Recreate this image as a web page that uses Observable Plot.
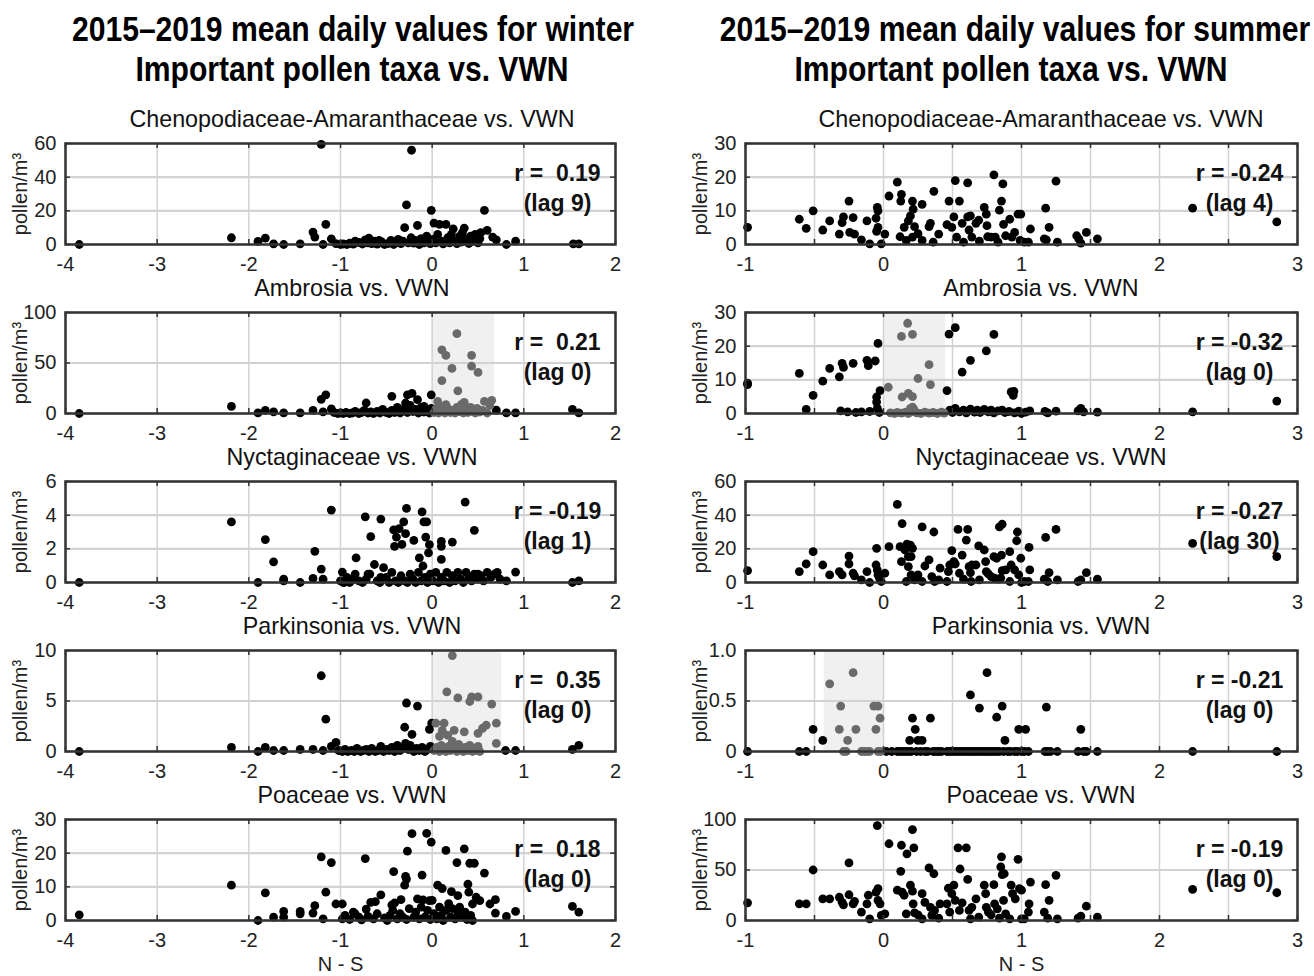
<!DOCTYPE html>
<html><head><meta charset="utf-8">
<script src="https://cdn.jsdelivr.net/npm/d3@7"></script>
<script src="https://cdn.jsdelivr.net/npm/@observablehq/plot@0.6"></script>
<style>
body{margin:0;background:#fff;}
#root{position:relative;width:1314px;height:976px;overflow:hidden;font-family:"Liberation Sans",Arial,sans-serif;color:#000}
.t{position:absolute;white-space:nowrap;line-height:1;}
.main{font-weight:bold;font-size:35px;transform:translateX(-50%) scaleX(0.86);}
.sub{font-size:24px;transform:translateX(-50%) scaleX(0.97);color:#111;}
.p{position:absolute;}
</style></head><body><div id="root"></div><script>
const FONT = '"Liberation Sans",Arial,sans-serif';

// ---------- tick labels ----------
const xTicksW = [-4,-3,-2,-1,0,1,2];
const xTicksS = [-1,-0.5,0,0.5,1,1.5,2,2.5,3];
const xLabelsS = [-1,0,1,2,3];

const titles = ["Chenopodiaceae-Amaranthaceae vs. VWN","Ambrosia vs. VWN","Nyctaginaceae vs. VWN","Parkinsonia vs. VWN","Poaceae vs. VWN"];
const rWinter = ["0.19","0.21","-0.19","0.35","0.18"];
const lagWinter = [9,0,1,0,0];
const rSummer = ["-0.24","-0.32","-0.27","-0.21","-0.19"];
const lagSummer = [4,0,30,0,0];
const yTicksW = [[0,20,40,60],[0,50,100],[0,2,4,6],[0,5,10],[0,10,20,30]];
const yTicksS = [[0,10,20,30],[0,10,20,30],[0,20,40,60],[0,0.5,1],[0,50,100]];
const shadeW = [null,[0,0.68],null,[0,0.76],null];
const shadeS = [null,[0,0.45],null,[-0.43,0],null];

// ---------- winter data [N-S, pollen] ----------
const wCheno = [[-3.85,0],[-2.19,4],[-1.9,1.8],[-1.82,3.8],[-1.73,0.4],[-1.62,0],[-1.44,0.4],[-1.30,7.4],[-1.28,4.4],[-1.21,59.5],[-1.19,0],[-1.16,12],[-1.10,3.4],[-0.84,2],[-0.73,2.8],[-0.69,3.8],[-0.58,2.4],[-0.30,10],[-0.28,23.5],[-0.225,56],[-0.16,11.3],[-0.01,20.3],[0.02,12.7],[0.08,12],[0.15,12],[0.23,9.3],[0.35,9.7],[0.57,20.3],[0.60,8.4],[0.66,4.4],[0.70,2.8],[0.81,0],[0.91,2],[1.54,0.4],[1.60,0.4],
[-1.05,0.5],[-1.0,0],[-0.97,0.3],[-0.93,0],[-0.9,0.8],[-0.86,0.2],[-0.8,1.2],[-0.76,0.3],[-0.7,1],[-0.66,0.5],[-0.63,2],[-0.6,0.2],[-0.55,1.5],[-0.52,0],[-0.48,0.6],[-0.45,2.5],[-0.42,0],[-0.4,1.2],[-0.37,3],[-0.34,0.5],[-0.32,2],[-0.26,1],[-0.23,4],[-0.2,0.8],[-0.18,2.5],[-0.14,0],[-0.12,3.5],[-0.09,1],[-0.06,5],[-0.04,2],[-0.02,0.5],[0.01,3],[0.04,1],[0.06,6],[0.1,2],[0.12,0.4],[0.17,4],[0.19,1],[0.21,6],[0.25,2],[0.27,0.5],[0.3,5],[0.32,1.5],[0.33,7],[0.37,3],[0.4,0.6],[0.42,5],[0.44,2],[0.47,6],[0.5,1],[0.52,3.5],[0.53,7]];

const wAmbrosia = [[-3.85,0],[-2.19,7],[-1.9,0.6],[-1.82,3],[-1.73,1.6],[-1.62,0.6],[-1.44,0.6],[-1.30,3],[-1.19,1.6],[-1.21,14],[-1.16,18.5],[-1.10,4.5],[-0.72,10.4],[-0.44,17],[-0.27,18.5],[-0.22,20],[-0.29,10.4],[-0.16,13.7],[-0.01,18.5],[-0.09,7],[0.70,3.3],[0.81,0.6],[0.91,0.6],[1.53,4],[1.60,0.6],
[-1.07,1],[-1.03,0],[-1.0,0.5],[-0.97,0],[-0.94,1],[-0.9,0],[-0.87,0.5],[-0.84,2],[-0.8,0],[-0.77,1],[-0.74,3],[-0.7,0.5],[-0.67,1.5],[-0.64,0],[-0.6,2],[-0.57,0.5],[-0.54,4],[-0.5,1],[-0.47,0],[-0.44,3],[-0.41,1],[-0.38,6],[-0.35,0.5],[-0.32,2.5],[-0.3,5],[-0.27,1],[-0.24,8],[-0.21,2],[-0.18,4],[-0.15,0.5],[-0.12,6],[-0.09,1.5],[-0.06,3],[-0.03,0.5],[-0.01,5],
[0.106,63],[0.15,57.5],[0.106,32.6],[0.216,44.6],[0.27,79],[0.28,22.5],[0.43,57.6],[0.43,47],[0.50,40.7],[0.06,12],[0.15,8.8],[0.35,11],[0.57,12],[0.65,13],
[0.02,1],[0.04,4],[0.07,0.5],[0.09,7],[0.12,2],[0.14,0.5],[0.17,5],[0.2,1],[0.22,3],[0.25,0.5],[0.27,6],[0.3,2],[0.32,9],[0.34,0.5],[0.37,4],[0.39,1],[0.42,6],[0.44,2],[0.47,0.5],[0.49,5],[0.52,1.5],[0.55,3],[0.6,0.5],[0.63,8]];

const wNyct = [[-3.85,0],[-2.19,3.6],[-1.9,0],[-1.82,2.55],[-1.73,1.23],[-1.62,0.2],[-1.62,0.1],[-1.44,0],[-1.30,0.25],[-1.28,1.85],[-1.21,0.8],[-1.19,0.2],[-1.10,4.3],[-0.98,0.62],[-0.97,0],[-0.89,0.1],[-0.84,0.5],[-0.83,1.46],[-0.73,3.9],[-0.72,0.2],[-0.70,0.5],[-0.67,2.73],[-0.63,1.07],[-0.56,3.77],[-0.56,0.3],[-0.53,0.88],[-0.42,3.12],[-0.41,2.15],[-0.39,2.7],[-0.36,3.2],[-0.33,2.26],[-0.31,3.6],[-0.29,2.9],[-0.28,4.4],[-0.20,2.5],[-0.11,4.2],[-0.09,3.6],[-0.06,3.6],[-0.07,2.7],[-0.14,1.46],[-0.10,0.98],[-0.04,1.76],[-0.03,2.25],[0.1,2.44],[0.10,2.15],[0.10,1.37],[0.22,2.4],[0.36,4.78],[0.46,3.1],[0.5,0.5],[0.91,0.62],[0.81,0.1],[1.53,0],[1.60,0.1],
[-1.0,0.1],[-0.96,0],[-0.93,0.3],[-0.9,0],[-0.86,0.2],[-0.8,0.1],[-0.76,0],[-0.68,0.5],[-0.6,0.1],[-0.57,0],[-0.5,0.3],[-0.47,0],[-0.44,0.6],[-0.4,0.1],[-0.37,0],[-0.34,0.4],[-0.3,0.1],[-0.27,0],[-0.24,0.5],[-0.21,0.2],[-0.18,0],[-0.15,0.6],[-0.12,0.1],[-0.08,0.3],[-0.05,0],[-0.02,0.5],[0.01,0.1],[0.04,0.6],[0.07,0],[0.1,0.3],[0.13,0.1],[0.16,0.6],[0.19,0],[0.22,0.4],[0.25,0.1],[0.28,0.6],[0.31,0.2],[0.34,0],[0.37,0.6],[0.4,0.3],[0.43,0.1],[0.46,0.5],[0.5,0.2],[0.53,0.4],[0.56,0.1],[0.6,0.6],[0.64,0.3],[0.68,0.5],[0.71,0.6],[0.74,0.2]];

const wParkin = [[-3.85,0],[-2.19,0.4],[-1.9,0],[-1.82,0.4],[-1.73,0.1],[-1.62,0.1],[-1.44,0.2],[-1.30,0.2],[-1.19,0.1],[-1.21,7.5],[-1.16,3.2],[-1.10,0.5],[-1.05,0.9],[-0.28,4.8],[-0.16,4.5],[-0.30,2.4],[-0.22,1.7],[-0.03,2.2],[-0.005,2.8],[-0.29,0.8],[0.80,0.1],[0.91,0.1],[1.53,0.2],[1.60,0.6],
[-1.02,0.1],[-0.98,0],[-0.95,0.2],[-0.92,0],[-0.88,0.1],[-0.85,0],[-0.82,0.3],[-0.78,0],[-0.75,0.1],[-0.72,0.2],[-0.69,0],[-0.66,0.3],[-0.62,0],[-0.59,0.1],[-0.56,0.5],[-0.53,0],[-0.5,0.2],[-0.47,0.1],[-0.44,0.4],[-0.41,0],[-0.38,0.6],[-0.35,0.1],[-0.32,0.3],[-0.26,0.2],[-0.24,0.6],[-0.2,0],[-0.17,0.3],[-0.14,0.1],[-0.11,0.4],[-0.08,0],[-0.05,0.2],[-0.02,0.5],
[0.22,9.5],[0.16,5.9],[0.28,5.3],[0.41,4.95],[0.43,5.4],[0.50,5.4],[0.65,4.7],[0.04,2.8],[0.13,2.8],[0.11,2.1],[0.24,2.1],[0.35,1.95],[0.50,1.8],[0.55,2.3],[0.59,2.6],[0.70,2.8],[0.70,0.8],[0.17,1.6],[0.08,1.5],[0.22,1.0],
[0.02,0.1],[0.05,0.4],[0.08,0],[0.1,0.6],[0.13,0.2],[0.15,0],[0.18,0.5],[0.2,0.1],[0.24,0.3],[0.27,0],[0.29,0.7],[0.31,0.2],[0.34,0],[0.36,0.4],[0.39,0.1],[0.41,0.6],[0.44,0],[0.46,0.3],[0.48,0.1],[0.5,0.5],[0.52,0]];

const wPoaceae = [[-3.85,1.7],[-2.19,10.5],[-1.9,0],[-1.82,8.2],[-1.73,1],[-1.62,2.7],[-1.62,1],[-1.44,2],[-1.44,2.7],[-1.30,2.2],[-1.28,4.4],[-1.21,18.9],[-1.19,0.5],[-1.16,8.4],[-1.10,17.2],[-1.05,4.9],[-0.98,4.9],[-0.84,2],[-0.73,18.4],[-0.72,3.4],[-0.67,5.4],[-0.62,5.6],[-0.56,7.6],[-0.42,14.5],[-0.44,4.6],[-0.41,5.2],[-0.34,6.2],[-0.30,10.5],[-0.29,13.1],[-0.28,12.3],[-0.27,20.6],[-0.22,25.8],[-0.16,6.4],[-0.11,13.5],[-0.10,6.1],[-0.06,25.9],[-0.01,23.3],[-0.03,5.9],[0.06,10.5],[0.11,9.5],[0.15,20.8],[0.21,8.6],[0.27,17.2],[0.28,7.4],[0.35,21.3],[0.39,10.8],[0.41,17],[0.46,17],[0.40,8.4],[0.44,4.9],[0.48,6.9],[0.52,5.9],[0.57,14.1],[0.63,4.9],[0.69,6.2],[0.69,2.2],[0.81,1.2],[0.91,2.7],[1.53,4.2],[1.60,2.5],
[-0.98,0.5],[-0.95,1.5],[-0.9,0.3],[-0.86,2.5],[-0.8,1],[-0.77,0.2],[-0.7,1.2],[-0.64,0.5],[-0.6,2],[-0.52,0.8],[-0.49,0],[-0.46,1.5],[-0.43,3],[-0.38,0.5],[-0.35,2],[-0.32,1],[-0.28,0.3],[-0.25,3.5],[-0.2,1],[-0.18,2.5],[-0.14,0.5],[-0.12,4],[-0.08,1],[-0.05,3],[-0.02,0.3],[0,6],[0.02,2],[0.05,0.5],[0.08,4],[0.1,1.5],[0.12,0],[0.15,3],[0.18,5],[0.2,1],[0.22,3.5],[0.25,0.5],[0.28,2],[0.3,4],[0.33,1],[0.36,2.5],[0.38,0.3],[0.42,1.5],[0.44,0]];

// ---------- summer data [N-S, pollen] ----------
const sCheno = [[-0.985,5.1],[-0.61,7.5],[-0.56,4.8],[-0.51,10],[-0.44,4.3],[-0.39,7],[-0.32,3.1],[-0.30,6.5],[-0.29,8.2],[-0.25,12.9],[-0.245,3.6],[-0.22,8],[-0.21,3.1],[-0.16,1.4],[-0.12,7],[-0.10,0.2],[-0.054,7.8],[-0.045,11],[-0.04,10],[-0.05,3.9],[-0.04,5.1],[-0.016,0.2],[0.01,3.1],[0.04,14.4],[0.10,18.5],[0.13,14.9],[0.125,12.9],[0.15,5.1],[0.12,2.3],[0.165,1.2],[0.18,7],[0.195,8.5],[0.21,12.9],[0.215,10.5],[0.21,2.2],[0.225,5.3],[0.25,3.2],[0.28,11.9],[0.28,1.2],[0.33,5.3],[0.34,6.3],[0.365,15.8],[0.36,0.7],[0.40,3.1],[0.46,5.9],[0.475,12.9],[0.495,5.1],[0.52,19],[0.51,8.2],[0.53,2.2],[0.55,12.9],[0.57,6.3],[0.58,0.7],[0.61,18.3],[0.61,8.2],[0.63,8.5],[0.62,4.3],[0.64,2.2],[0.67,6.3],[0.69,7.2],[0.695,1],[0.73,11],[0.745,9],[0.75,5.6],[0.755,2.3],[0.78,2.2],[0.80,20.7],[0.81,2.2],[0.83,0.7],[0.865,18],[0.855,12.9],[0.84,10.2],[0.87,6],[0.885,2.6],[0.915,7.5],[0.93,2.2],[0.95,3.6],[0.975,9],[0.995,9],[0.99,1.2],[1.02,0.7],[1.05,0.7],[1.065,4.6],[1.165,1.7],[1.175,10.8],[1.18,1.4],[1.20,5.1],[1.25,18.8],[1.26,0.7],[1.40,2.6],[1.415,1.7],[1.43,0.4],[1.47,3.6],[1.55,1.7],[2.24,10.8],[2.85,6.7]];

const sAmbrosia = [[-0.985,9],[-0.985,8.6],[-0.61,11.9],[-0.56,1.2],[-0.51,5.4],[-0.44,9.6],[-0.39,13.4],[-0.32,10.9],[-0.30,14.9],[-0.29,13.7],[-0.22,14.9],[-0.26,0.5],[-0.31,0.8],[-0.2,0.3],[-0.16,0.5],[-0.1,0.6],[-0.12,15.8],[-0.11,14.2],[-0.06,15.6],[-0.04,20.8],[-0.05,4.9],[-0.05,3.4],[-0.045,1.5],[-0.025,6.8],[-0.03,0.3],
[0.46,6.8],[0.475,23.6],[0.52,25.5],[0.57,12.3],[0.63,15.8],[0.745,18.6],[0.80,23.5],[0.94,5.4],[0.945,6.6],[0.925,6.4],
[0.48,1],[0.5,0.3],[0.52,1.5],[0.55,0.5],[0.58,1],[0.6,0.2],[0.63,1.3],[0.66,0.4],[0.68,1],[0.7,0.3],[0.73,1.2],[0.76,0.5],[0.78,1],[0.8,0.2],[0.83,0.8],[0.86,1],[0.88,0.3],[0.91,0.6],[0.95,0.2],[0.98,0.7],[1.0,0],[1.03,0.4],[1.06,0.8],[1.17,0.6],[1.19,0.2],[1.25,0.7],[1.41,0.8],[1.43,1.5],[1.45,0.5],[1.55,0.4],[2.24,0.5],[2.85,3.7],
[0.035,7.8],[0.13,22.9],[0.175,26.8],[0.21,23.5],[0.135,4.9],[0.18,6],[0.21,5],[0.25,10.4],[0.33,14.5],[0.34,8.6],[0.21,1.9],[0.195,1.5],
[0.05,0.2],[0.08,0],[0.1,0.3],[0.13,0.1],[0.16,0.4],[0.18,0],[0.2,0.5],[0.22,1.2],[0.24,0.2],[0.27,0],[0.3,0.4],[0.33,0.1],[0.36,0.3],[0.39,0],[0.42,0.4],[0.44,0.1]];

const sNyct = [[-0.985,7],[-0.61,6.5],[-0.56,11],[-0.51,18.3],[-0.44,10.4],[-0.39,4.5],[-0.32,6.5],[-0.30,4.5],[-0.25,15.7],[-0.25,11],[-0.22,5.5],[-0.21,3.9],[-0.16,1.6],[-0.12,6.5],[-0.10,0],[-0.054,10.4],[-0.05,20.3],[-0.045,7.5],[-0.04,4.5],[-0.03,2.6],[-0.016,0.6],[0.01,5.5],[0.04,21.3],[0.10,46.4],[0.135,35],[0.12,21.3],[0.13,12.4],[0.155,19.3],[0.17,22.8],[0.18,15.4],[0.195,22.2],[0.21,20.3],[0.20,15.4],[0.18,9.4],[0.165,0.6],[0.20,4.5],[0.225,1.6],[0.25,4.5],[0.28,33],[0.28,0.6],[0.30,9.8],[0.33,13.4],[0.35,3.5],[0.365,30],[0.37,0.6],[0.40,1.6],[0.41,8.5],[0.46,0.6],[0.47,6.5],[0.48,10.4],[0.495,18.9],[0.51,12.4],[0.52,11],[0.54,31.5],[0.55,5.5],[0.57,16.3],[0.58,2],[0.60,25.2],[0.61,31.5],[0.62,9.4],[0.63,5.9],[0.64,10.4],[0.635,0.6],[0.67,10.4],[0.69,21.7],[0.695,1.6],[0.73,19.3],[0.74,12.4],[0.745,6.5],[0.76,5.1],[0.78,3.5],[0.80,15.4],[0.805,2.6],[0.82,14.4],[0.83,2],[0.85,2.6],[0.84,33],[0.86,34.6],[0.855,16.3],[0.86,7],[0.885,7.5],[0.915,18.3],[0.915,0.6],[0.925,10.4],[0.95,7.5],[0.97,30],[0.965,24.8],[0.98,4.5],[0.995,14.4],[1.0,0],[1.02,0.6],[1.05,0.6],[1.055,20.9],[1.06,7.5],[1.165,2],[1.175,26.8],[1.19,0.6],[1.20,5.9],[1.25,31.5],[1.26,1.6],[1.41,0.6],[1.43,1.6],[1.47,5.9],[1.55,2],[2.24,23.2],[2.85,15.4]];

const sParkin = [[-0.985,0],[-0.61,0],[-0.56,0],[-0.51,0.22],[-0.44,0.11],
[0.02,0],[0.06,0],[0.1,0],[0.12,0],[0.14,0],[0.16,0],[0.18,0],[0.2,0],[0.24,0],[0.27,0],[0.3,0],[0.32,0],[0.36,0],[0.38,0],[0.4,0],[0.42,0],[0.46,0],[0.48,0],[0.5,0],[0.52,0],[0.54,0],[0.56,0],[0.58,0],[0.6,0],[0.62,0],[0.64,0],[0.66,0],[0.68,0],[0.7,0],[0.72,0],[0.74,0],[0.76,0],[0.78,0],[0.8,0],[0.82,0],[0.84,0],[0.87,0],[0.9,0],[0.92,0],[0.95,0],[0.97,0],[1.0,0],[1.02,0],[1.05,0],[1.17,0],[1.19,0],[1.21,0],[1.26,0],[1.41,0],[1.45,0],[1.47,0],[1.55,0],[2.24,0],[2.85,0],
[0.19,0.11],[0.21,0.33],[0.23,0.22],[0.25,0.11],[0.28,0.11],[0.34,0.33],[0.63,0.56],[0.695,0.43],[0.75,0.78],[0.82,0.34],[0.86,0.45],[0.88,0.11],[0.98,0.22],[1.03,0.22],[1.18,0.44],[1.43,0.22],
[-0.39,0.67],[-0.31,0.45],[-0.32,0.22],[-0.22,0.78],[-0.20,0.22],[-0.26,0.11],[-0.29,0],[-0.27,0],[-0.16,0],[-0.14,0],[-0.12,0],[-0.10,0],[-0.07,0.45],[-0.04,0.45],[-0.055,0.22],[-0.025,0.33],[-0.04,0],[-0.02,0]];

const sPoaceae = [[-0.985,17.5],[-0.61,16.5],[-0.56,16.5],[-0.51,50],[-0.44,21.5],[-0.39,21.5],[-0.32,23],[-0.30,18],[-0.29,15.5],[-0.25,57],[-0.25,25.5],[-0.22,16.5],[-0.21,19],[-0.16,8.3],[-0.12,16.5],[-0.11,25],[-0.10,1.7],[-0.054,28],[-0.045,94],[-0.04,31.5],[-0.04,20],[-0.025,16.5],[-0.016,5],[0.01,6.6],[0.04,76],[0.10,30],[0.13,74.5],[0.125,48.7],[0.135,28],[0.15,25],[0.17,66],[0.165,6.6],[0.195,35],[0.21,90],[0.22,72],[0.21,29],[0.215,16.5],[0.225,7.6],[0.25,5.6],[0.28,26.5],[0.28,1.7],[0.30,18],[0.33,52],[0.34,13],[0.35,5],[0.365,46.3],[0.37,10],[0.40,2.3],[0.41,16.5],[0.46,16.5],[0.47,32],[0.48,8.3],[0.495,26.5],[0.51,35],[0.52,20],[0.54,72],[0.555,51],[0.55,10],[0.57,17.5],[0.60,72],[0.61,40.7],[0.62,10],[0.63,1.7],[0.64,13],[0.67,21.5],[0.69,3.3],[0.73,35],[0.74,26.5],[0.745,13],[0.76,8.3],[0.78,5.6],[0.80,35.5],[0.805,16.5],[0.825,11.6],[0.84,2.3],[0.85,53],[0.855,63],[0.86,45.4],[0.87,20],[0.875,46.3],[0.885,6.6],[0.915,1.7],[0.925,35],[0.935,26.5],[0.955,21.5],[0.975,60.6],[0.985,31.5],[1.0,30],[1.0,1.7],[1.02,1.7],[1.05,8.3],[1.055,16.5],[1.065,38],[1.165,8.3],[1.175,35.5],[1.19,2.3],[1.20,20],[1.25,44.7],[1.26,1.7],[1.41,2.3],[1.43,4.3],[1.47,14.2],[1.55,3.3],[2.24,30.8],[2.85,27.5]];

const winterData = [wCheno,wAmbrosia,wNyct,wParkin,wPoaceae];
const summerData = [sCheno,sAmbrosia,sNyct,sParkin,sPoaceae];

// ---------- layout ----------
const frameTops = [143,312,481,650,819];
const FH = 101;
const root = document.getElementById("root");

function addText(cls, txt, cx, top) {
  const d = document.createElement("div");
  d.className = "t " + cls; d.textContent = txt;
  d.style.left = cx + "px"; d.style.top = top + "px";
  root.appendChild(d);
}
addText("main","2015–2019 mean daily values for winter",353,11);
addText("main","Important pollen taxa vs. VWN",352,51);
addText("main","2015–2019 mean daily values for summer",1015,11);
addText("main","Important pollen taxa vs. VWN",1011,51);

function panel({data, xDomain, xTicks, xLabels, yTicks, yFmt, shade, r, lag, bottom, fw}) {
  const [x0,x1] = xDomain;
  const y0 = yTicks[0], y1 = yTicks[yTicks.length-1];
  const tly = (y1-y0)*5/FH, tlx = (x1-x0)*5/fw;
  const pts = data.map(([x,y]) => ({x, y, g: shade ? (x >= shade[0] && x <= shade[1]) : false}));
  const mt = 8, mb = bottom ? 62 : 34;
  const marks = [];
  if (shade) marks.push(Plot.rect([shade], {x1: d=>d[0], x2: d=>d[1], fill:"#f0f0f0"}));
  marks.push(
    Plot.gridX(xTicks, {stroke:"#d2d2d2", strokeOpacity:1, strokeWidth:1.5}),
    Plot.gridY(yTicks, {stroke:"#d2d2d2", strokeOpacity:1, strokeWidth:2.2}),
    Plot.dot(pts, {x:"x", y:"y", r:4.4, fill: d => d.g ? "#6a6a6a" : "#000", stroke:null}),
    Plot.ruleX(xTicks, {x:d=>d, y1:y0, y2:y0+tly, stroke:"#333", strokeWidth:1.5}),
    Plot.ruleX(xTicks, {x:d=>d, y1:y1, y2:y1-tly, stroke:"#333", strokeWidth:1.5}),
    Plot.ruleY(yTicks, {y:d=>d, x1:x0, x2:x0+tlx, stroke:"#333", strokeWidth:1.5}),
    Plot.ruleY(yTicks, {y:d=>d, x1:x1, x2:x1-tlx, stroke:"#333", strokeWidth:1.5}),
    Plot.frame({stroke:"#333", strokeWidth:2.5}),
    Plot.axisX(xLabels, {tickSize:0, tickPadding:12, label:null, tickFormat: d => String(d), fontSize:20, fill:"#222"}),
    Plot.axisY(yTicks, {tickSize:0, tickPadding:9, label:null, tickFormat: yFmt, fontSize:20, fill:"#222"}),
    Plot.text(["pollen/m³"], {frameAnchor:"left", rotate:-90, dx:-45, textAnchor:"middle", fontSize:20, fill:"#222"}),
    Plot.text([`r = ${r.startsWith("-") ? r : " " + r}\n(lag ${lag})`], {frameAnchor:"top-right", dx:-58, dy:16, textAnchor:"middle", lineAnchor:"top", lineHeight:1.3, fontSize:23, fontWeight:"bold", fill:"#111"})
  );
  if (bottom) marks.push(Plot.text(["N - S"], {frameAnchor:"bottom", dy:50, fontSize:20, fill:"#222"}));
  return Plot.plot({
    width: 65 + fw + 15, height: mt + FH + mb,
    marginLeft: 65, marginRight: 15, marginTop: mt, marginBottom: mb,
    x: {domain: xDomain}, y: {domain: [y0, y1]},
    style: {fontFamily: FONT, fontSize: "20px", background: "transparent", overflow: "visible", color:"#222"},
    marks
  });
}

const fmtInt = d => String(d);
const fmtHalf = d => d === 0 ? "0" : d.toFixed(1);

for (let i = 0; i < 5; i++) {
  const ft = frameTops[i];
  addText("sub", titles[i], 352, ft - 36);
  addText("sub", titles[i], 1041, ft - 36);
  const w = panel({data: winterData[i], xDomain:[-4,2], xTicks:xTicksW, xLabels:xTicksW, yTicks:yTicksW[i], yFmt:fmtInt, shade:shadeW[i], r:rWinter[i], lag:lagWinter[i], bottom:i===4, fw:550});
  w.classList.add("p"); w.style.left = "0px"; w.style.top = (ft - 8) + "px";
  root.appendChild(w);
  const s = panel({data: summerData[i], xDomain:[-1,3], xTicks:xTicksS, xLabels:xLabelsS, yTicks:yTicksS[i], yFmt: i===3 ? fmtHalf : fmtInt, shade:shadeS[i], r:rSummer[i], lag:lagSummer[i], bottom:i===4, fw:552});
  s.classList.add("p"); s.style.left = "680px"; s.style.top = (ft - 8) + "px";
  root.appendChild(s);
}
</script></body></html>
